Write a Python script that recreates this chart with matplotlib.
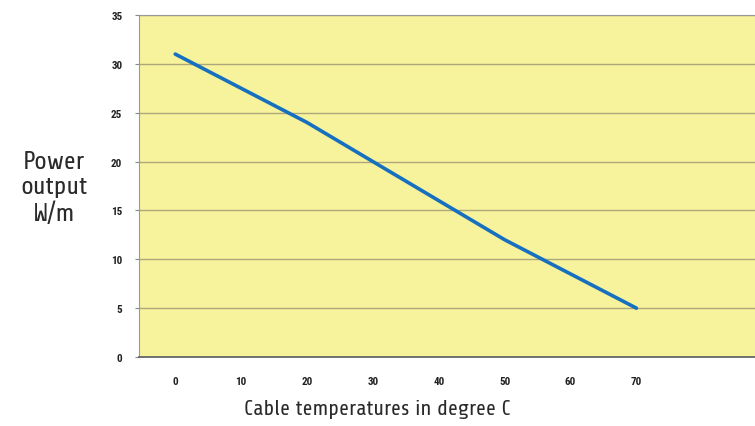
import matplotlib
matplotlib.use("Agg")
import matplotlib.pyplot as plt

temps = [0, 10, 20, 30, 40, 50, 60, 70]
power = [31, 27.5, 24, 20, 16, 12, 8.5, 5]
yticks = [0, 5, 10, 15, 20, 25, 30, 35]

fig = plt.figure(figsize=(7.55, 4.27), dpi=100)
ax = fig.add_axes([139/755, 69/427, 1 - 139/755, (358-16)/427])
ax.set_facecolor("#F7F29C")
ax.plot(temps, power, color="#1670BF", lw=2.6, solid_capstyle="round")
ax.set_xlim(-5.5, 88)
ax.set_ylim(0, 35)
ax.set_yticks(yticks)
ax.set_xticks(temps)
ax.grid(axis="y", color="#ADA77C", lw=1)
ax.set_axisbelow(True)
tickfont = dict(family=["Roboto Condensed", "Liberation Sans", "DejaVu Sans"], weight="bold", size=8)
ax.set_yticklabels([str(v) for v in yticks], **tickfont, color="#222222")
ax.set_xticklabels([str(v) for v in temps], **tickfont, color="#222222")
ax.tick_params(axis="y", length=3, color="#888888", pad=9)
ax.tick_params(axis="x", length=0, pad=14)
for s in ["left", "top"]:
    ax.spines[s].set_color("#999999")
ax.spines["bottom"].set_color("#666666")
ax.spines["bottom"].set_linewidth(1.3)
ax.spines["right"].set_visible(False)

fig.text(54/755, 1 - 188/427, "Power\noutput\nW/m", ha="center", va="center", linespacing=1.15,
         family=["Share", "DejaVu Sans"], size=18.5, color="#2a2a2a")
fig.text(377/755, 1 - 410/427, "Cable temperatures in degree C", ha="center", va="center",
         family=["Share", "DejaVu Sans"], size=15.5, color="#2a2a2a")

fig.savefig("out.png", dpi=100)
